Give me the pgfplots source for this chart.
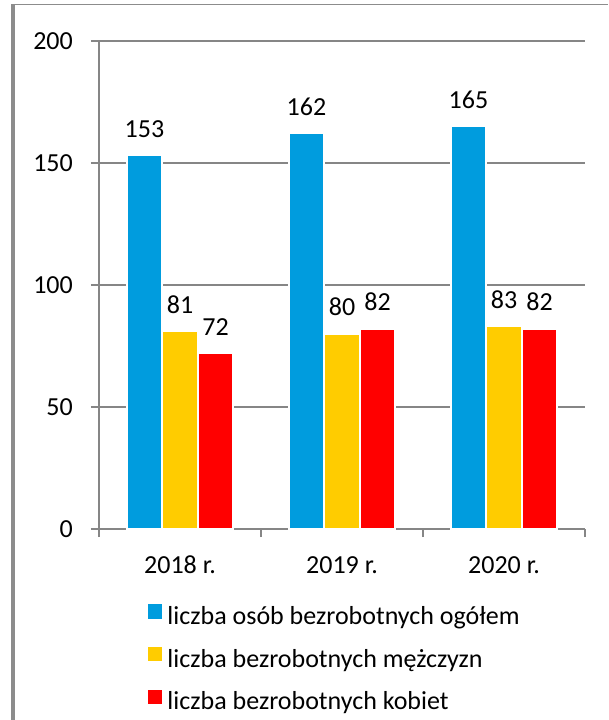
\documentclass[border=0pt]{standalone}
\usepackage{pgfplots}
\pgfplotsset{compat=1.18}
\usepackage{fontspec}
\setmainfont{Carlito}
\definecolor{cblue}{RGB}{0,156,222}
\definecolor{cyellow}{RGB}{255,204,0}
\definecolor{cred}{RGB}{255,0,0}
\definecolor{cgrid}{RGB}{134,134,134}
\definecolor{cframe}{RGB}{140,140,140}
\newcommand{\bigf}{\fontsize{26pt}{31pt}\selectfont}
\begin{document}
\bigf
\begin{tikzpicture}[x=1pt,y=1pt]
\useasboundingbox (0,0) rectangle (608,720);
\fill[white] (0,0) rectangle (608,720);
\draw[cframe, line width=1.5pt] (11.5,715.5) -- (608,715.5);
\draw[cframe, line width=3.3pt] (13,0) -- (13,716);
\begin{axis}[
  at={(99pt,191pt)}, anchor=south west,
  scale only axis, width=486pt, height=488pt,
  ymin=0, ymax=200, ytick={0,50,100,150,200},
  xmin=-0.5, xmax=2.5,
  xtick={0,1,2}, xticklabels={2018 r.,2019 r.,2020 r.},
  major x tick style={draw=none},
  extra x ticks={-0.5,0.5,1.5,2.5}, extra x tick labels={},
  extra x tick style={grid=none, major tick length=8pt, major x tick style={draw=cgrid, line width=1.5pt}},
  axis lines*=left,
  axis line style={cgrid, line width=1.5pt},
  tick align=outside, major tick length=8pt,
  tick style={cgrid, line width=1.5pt},
  ymajorgrids, grid style={cgrid, line width=1.5pt},
  /pgf/number format/assume math mode=true,
  ticklabel style={font=\bigf, text=black},
  yticklabel style={inner sep=0pt, anchor=east, xshift=-18pt},
  xticklabel style={inner sep=0pt, anchor=north, yshift=-19pt},
  ybar=0.5pt, bar width=35pt,
  nodes near coords,
  every node near coord/.append style={font=\bigf, text=black, inner sep=0pt, anchor=south, yshift=17pt},
  legend style={at={(axis description cs:0.1008,-0.1537)}, anchor=north west,
    draw=none, fill=none, inner sep=0pt, outer sep=0pt,
    /tikz/row sep=16.5pt, /tikz/column sep=5pt,
    nodes={inner sep=0pt, font=\bigf, text height=19pt, text depth=6pt}},
  legend cell align=left,
]
\addplot[fill=cblue, draw=white, line width=1.5pt,
  legend image code/.code={\fill[cblue] (0pt,0pt) rectangle (13pt,13pt);}]
  coordinates {(0,153) (1,162) (2,165)};
\addplot[fill=cyellow, draw=white, line width=1.5pt,
  legend image code/.code={\fill[cyellow] (0pt,0pt) rectangle (13pt,13pt);}]
  coordinates {(0,81) (1,80) (2,83)};
\addplot[fill=cred, draw=white, line width=1.5pt,
  legend image code/.code={\fill[cred] (0pt,0pt) rectangle (13pt,13pt);}]
  coordinates {(0,72) (1,82) (2,82)};
\legend{liczba osób bezrobotnych ogółem, liczba bezrobotnych mężczyzn, liczba bezrobotnych kobiet}
\end{axis}
\end{tikzpicture}
\end{document}
